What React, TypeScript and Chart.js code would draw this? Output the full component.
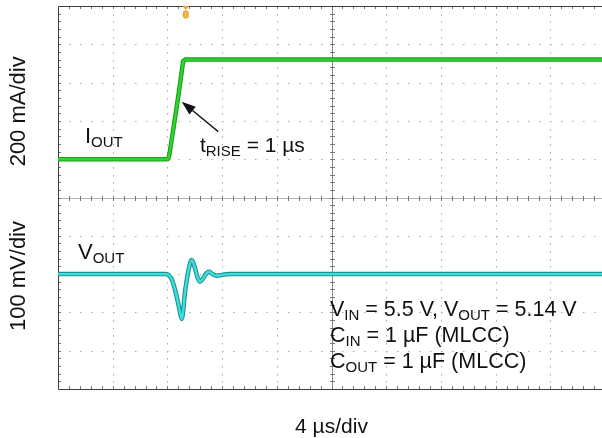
import { useEffect, useRef } from 'react';
import { Chart, registerables } from 'chart.js';

Chart.register(...registerables);

// time base 4 us/div, 10 divisions
const X_MAX_US = 40;
const Y_DIVS = 10;

// I_OUT trace (200 mA/div, zero level on division 6)
const iTimeUs = [0, 8.0, 8.08, 8.15, 8.3, 8.6, 8.9, 9.05, 9.15, 9.3, 40];
const iOutMa = [0, 0, 5, 25, 95, 235, 380, 460, 512, 520, 520];
const I_ZERO_DIV = 6;
const I_MA_PER_DIV = 200;

// V_OUT trace (100 mV/div, AC coupled, zero level on division 3)
const vTimeUs = [0, 7.9, 8.1, 8.3, 8.56, 8.78, 8.95, 9.05, 9.3, 9.55, 9.78, 9.98, 10.2, 10.38, 10.6, 10.85, 11.06, 11.3, 11.6, 12.0, 12.5, 40];
const vOutMv = [0, 0, -3, -12, -41, -75, -104, -117, -43, 11, 37, 20, -8, -20, -12, 2, 6, 0, -4, -2, 0, 0];
const V_ZERO_DIV = 3;
const V_MV_PER_DIV = 100;

const triggerUs = 9.34;

const FONT = '"Liberation Sans", Arial, Helvetica, sans-serif';

type Part = { t: string; sub?: boolean };

function drawRich(ctx: CanvasRenderingContext2D, parts: Part[], x: number, y: number, size: number, subSize: number) {
  let cx = x;
  parts.forEach((p) => {
    ctx.font = `${p.sub ? subSize : size}px ${FONT}`;
    ctx.fillText(p.t, cx, p.sub ? y + 4 : y);
    cx += ctx.measureText(p.t).width;
  });
}

const scopePlugin = {
  id: 'scope',
  beforeDatasetsDraw(chart: any) {
    const { ctx, chartArea: a, scales } = chart;
    const xs = scales.x;
    const ys = scales.y;
    const px = (v: number) => Math.round(xs.getPixelForValue(v));
    const py = (v: number) => Math.round(ys.getPixelForValue(v));
    ctx.save();

    // dotted grid
    ctx.fillStyle = '#a8a8a8';
    for (let i = 1; i < 10; i++) {
      if (i === 5) continue;
      const gx = px(i * 4);
      for (let j = 1; j < Y_DIVS * 5; j++) ctx.fillRect(gx, py(j * 0.2), 1, 1.5);
    }
    for (let i = 1; i < Y_DIVS; i++) {
      if (i === 5) continue;
      const gy = py(i);
      for (let j = 1; j < 50; j++) ctx.fillRect(px(j * 0.8), gy, 1.5, 1);
    }

    // centre cross lines
    const cy = py(5) + 0.5;
    const cxl = px(20) + 0.5;
    ctx.lineWidth = 1;
    ctx.strokeStyle = '#b4b4b4';
    ctx.beginPath();
    ctx.moveTo(a.left, cy);
    ctx.lineTo(a.right, cy);
    ctx.stroke();
    ctx.strokeStyle = '#8a8a8a';
    ctx.beginPath();
    ctx.moveTo(cxl, a.top);
    ctx.lineTo(cxl, a.bottom);
    ctx.stroke();

    ctx.strokeStyle = '#777';
    ctx.beginPath();
    for (let j = 1; j < 50; j++) {
      const tx = px(j * 0.8) + 0.5;
      ctx.moveTo(tx, cy - 2.5);
      ctx.lineTo(tx, cy + 2.5);
      // ticks on top and bottom borders
      ctx.moveTo(tx, a.top);
      ctx.lineTo(tx, a.top + 3);
      ctx.moveTo(tx, a.bottom);
      ctx.lineTo(tx, a.bottom - 3);
    }
    for (let j = 1; j < Y_DIVS * 5; j++) {
      const ty = py(j * 0.2) + 0.5;
      ctx.moveTo(cxl - 2.5, ty);
      ctx.lineTo(cxl + 2.5, ty);
      ctx.moveTo(a.left, ty);
      ctx.lineTo(a.left + 3, ty);
    }
    ctx.stroke();

    // frame (right side runs off the picture)
    ctx.strokeStyle = '#3c3c3c';
    ctx.beginPath();
    ctx.moveTo(a.right, a.top + 0.5);
    ctx.lineTo(a.left + 0.5, a.top + 0.5);
    ctx.lineTo(a.left + 0.5, a.bottom + 0.5);
    ctx.lineTo(a.right, a.bottom + 0.5);
    ctx.stroke();
    ctx.restore();
  },
  afterDatasetsDraw(chart: any) {
    const { ctx, chartArea: a, scales } = chart;
    const xs = scales.x;
    const ys = scales.y;
    const px = (v: number) => xs.getPixelForValue(v);
    const py = (v: number) => ys.getPixelForValue(v);
    ctx.save();

    // trigger marker
    const mx = px(triggerUs);
    ctx.fillStyle = '#f2a12e';
    ctx.beginPath();
    ctx.moveTo(mx - 3.5, a.top);
    ctx.lineTo(mx + 3.5, a.top);
    ctx.lineTo(mx, a.top + 4);
    ctx.closePath();
    ctx.fill();
    ctx.beginPath();
    ctx.roundRect(mx - 3, a.top + 4.5, 6, 8, 3);
    ctx.fill();
    ctx.fillStyle = '#fbd9a0';
    ctx.fillRect(mx - 0.5, a.top + 6, 1, 5);

    ctx.fillStyle = '#111';
    ctx.textBaseline = 'alphabetic';
    ctx.textAlign = 'left';

    // trace labels
    drawRich(ctx, [{ t: 'I' }, { t: 'OUT', sub: true }], px(1.97), py(6.42), 22, 15);
    drawRich(ctx, [{ t: 'V' }, { t: 'OUT', sub: true }], px(1.46), py(3.39), 22, 15);
    drawRich(ctx, [{ t: 't' }, { t: 'RISE', sub: true }, { t: ' = 1 µs' }], px(10.38), py(6.2), 21, 15);

    drawRich(ctx, [{ t: 'V' }, { t: 'IN', sub: true }, { t: ' = 5.5 V, V' }, { t: 'OUT', sub: true }, { t: ' = 5.14 V' }], px(19.89), py(1.906), 21.5, 15);
    drawRich(ctx, [{ t: 'C' }, { t: 'IN', sub: true }, { t: ' = 1 µF (MLCC)' }], px(19.89), py(1.227), 21.5, 15);
    drawRich(ctx, [{ t: 'C' }, { t: 'OUT', sub: true }, { t: ' = 1 µF (MLCC)' }], px(19.89), py(0.548), 21.5, 15);

    // arrow to the rising edge
    const x0 = px(11.72), y0 = py(6.72);
    const x1 = px(9.05), y1 = py(7.5);
    const ang = Math.atan2(y1 - y0, x1 - x0);
    ctx.strokeStyle = '#111';
    ctx.lineWidth = 1.3;
    ctx.beginPath();
    ctx.moveTo(x0, y0);
    ctx.lineTo(x1 - Math.cos(ang) * 10, y1 - Math.sin(ang) * 10);
    ctx.stroke();
    ctx.beginPath();
    ctx.moveTo(x1, y1);
    ctx.lineTo(x1 - Math.cos(ang) * 14 + Math.sin(ang) * 5, y1 - Math.sin(ang) * 14 - Math.cos(ang) * 5);
    ctx.lineTo(x1 - Math.cos(ang) * 14 - Math.sin(ang) * 5, y1 - Math.sin(ang) * 14 + Math.cos(ang) * 5);
    ctx.closePath();
    ctx.fill();

    // axis captions
    ctx.font = `22px ${FONT}`;
    ctx.textAlign = 'center';
    ctx.save();
    ctx.translate(a.left - 33, py(7.25));
    ctx.rotate(-Math.PI / 2);
    ctx.fillText('200 mA/div', 0, 0);
    ctx.restore();
    ctx.save();
    ctx.translate(a.left - 33, py(2.95));
    ctx.rotate(-Math.PI / 2);
    ctx.fillText('100 mV/div', 0, 0);
    ctx.restore();
    ctx.font = `21px ${FONT}`;
    ctx.fillText('4 µs/div', px(20), a.bottom + 44);

    ctx.restore();
  },
};

export default function App() {
  const canvasRef = useRef<HTMLCanvasElement | null>(null);
  const chartRef = useRef<Chart | null>(null);

  useEffect(() => {
    if (!canvasRef.current) return;
    if (chartRef.current) chartRef.current.destroy();

    const iPoints = iTimeUs.map((t, k) => ({ x: t, y: I_ZERO_DIV + iOutMa[k] / I_MA_PER_DIV }));
    const vPoints = vTimeUs.map((t, k) => ({ x: t, y: V_ZERO_DIV + vOutMv[k] / V_MV_PER_DIV }));

    // line datasets are painted last-to-first, so the bright cores come first
    chartRef.current = new Chart(canvasRef.current, {
      type: 'line',
      data: {
        datasets: [
          { label: 'IOUT', data: iPoints, borderColor: '#2ed52e', borderWidth: 2.4, pointRadius: 0, tension: 0 },
          { label: 'VOUT', data: vPoints, borderColor: '#3fdede', borderWidth: 2.4, pointRadius: 0, cubicInterpolationMode: 'monotone' },
          { label: 'IOUT edge', data: iPoints, borderColor: '#1b9e1b', borderWidth: 4.5, pointRadius: 0, tension: 0 },
          { label: 'VOUT edge', data: vPoints, borderColor: '#1a9292', borderWidth: 4.5, pointRadius: 0, cubicInterpolationMode: 'monotone' },
        ],
      },
      options: {
        responsive: false,
        animation: false,
        layout: { padding: { left: 58, top: 6, right: 7, bottom: 49 } },
        plugins: { legend: { display: false }, tooltip: { enabled: false } },
        scales: {
          x: { type: 'linear', min: 0, max: X_MAX_US, display: false },
          y: { type: 'linear', min: 0, max: Y_DIVS, display: false },
        },
      },
      plugins: [scopePlugin],
    });

    return () => {
      if (chartRef.current) {
        chartRef.current.destroy();
        chartRef.current = null;
      }
    };
  }, []);

  return (
    <div style={{ position: 'fixed', left: 0, top: 0, width: 602, height: 438, overflow: 'hidden', background: '#fff' }}>
      <canvas ref={canvasRef} width={612} height={438} style={{ display: 'block', width: 612, height: 438 }}></canvas>
    </div>
  );
}
